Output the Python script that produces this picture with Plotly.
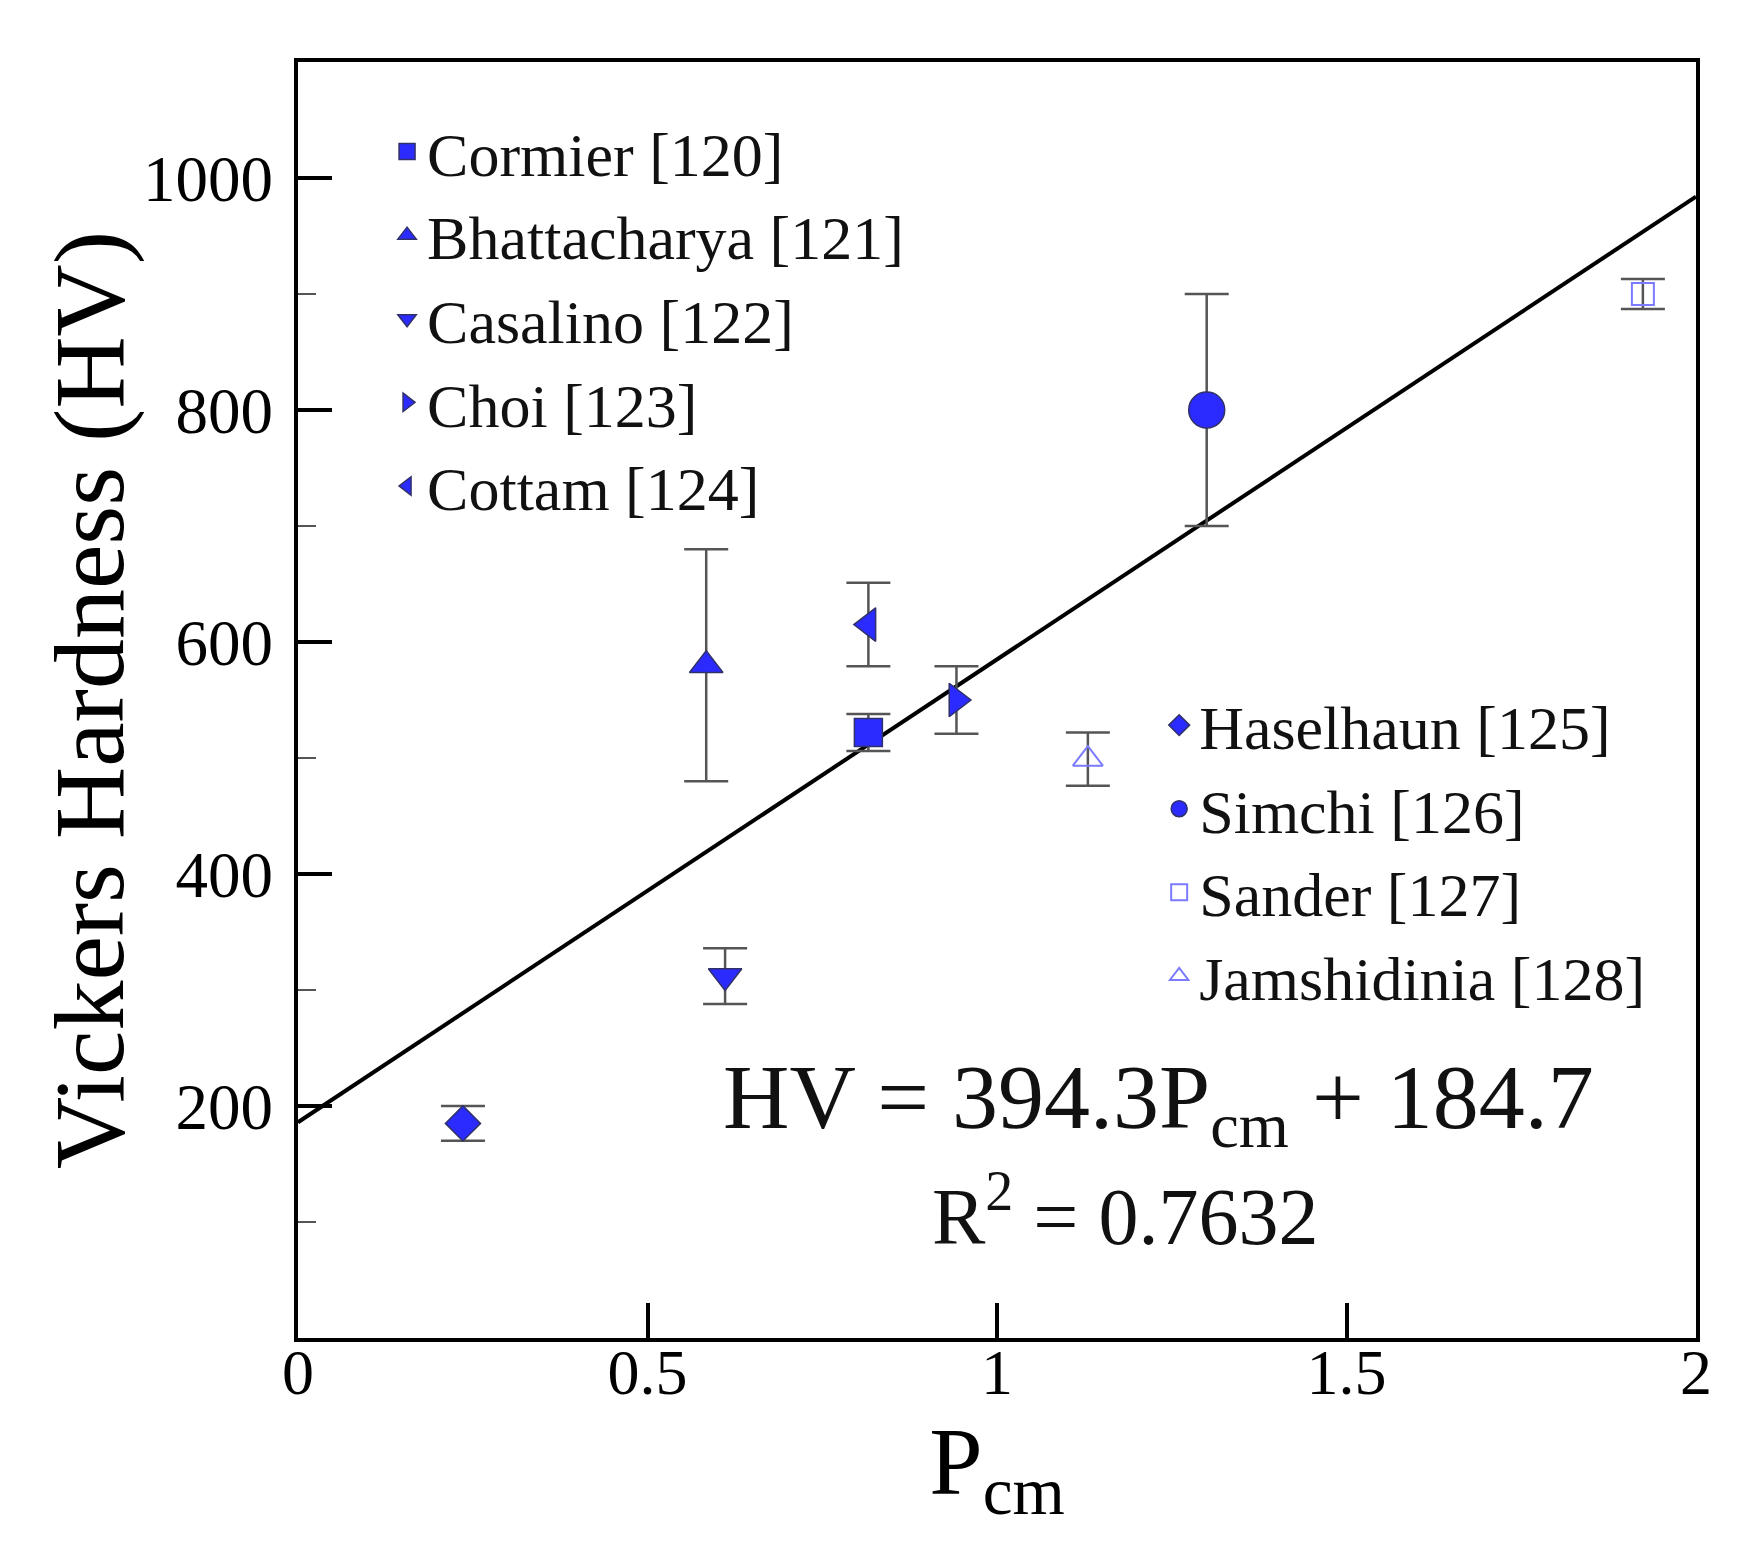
import plotly.graph_objects as go

# linear fit reported on the chart: HV = a * Pcm + b
fit_a = 394.3
fit_b = 184.7
fit_r2 = 0.7632
# fitted line as drawn (ends read at Pcm = 0 and 2)
fit_pcm = [0, 2]
fit_hv = [186, 984]

# one point per study: Pcm, Vickers hardness and its error
names = ["Cormier [120]", "Bhattacharya [121]", "Casalino [122]", "Choi [123]",
         "Cottam [124]", "Haselhaun [125]", "Simchi [126]", "Sander [127]",
         "Jamshidinia [128]"]
pcm = [0.816, 0.584, 0.611, 0.942, 0.816, 0.236, 1.300, 1.924, 1.130]
hv = [522, 580, 312, 550, 615, 185, 800, 900, 499]
hv_err = [16, 100, 24, 29, 36, 15, 100, 13, 23]

x_ticks = [0, 0.5, 1, 1.5, 2]
x_ticktext = ["0", "0.5", "1", "1.5", "2"]
y_ticks = [200, 400, 600, 800, 1000]
y_minor = [100, 300, 500, 700, 900]

symbols = ["square", "triangle-up", "triangle-down", "triangle-right", "triangle-left",
           "diamond", "circle", "square-open", "triangle-up-open"]
sizes = [28, 29, 29, 29, 29, 27, 36, 22, 26]
legends = ["legend"] * 5 + ["legend2"] * 4

FONT = "Liberation Serif"
BLUE = "#2b2bff"
LIGHT = "#7b7bff"

fig = go.Figure()

fig.add_trace(go.Scatter(x=fit_pcm, y=fit_hv, mode="lines", showlegend=False,
                         line=dict(color="black", width=4), hoverinfo="skip"))

for i, name in enumerate(names):
    if symbols[i].endswith("open"):
        marker = dict(symbol=symbols[i], size=sizes[i], color=LIGHT,
                      line=dict(color=LIGHT, width=2))
    else:
        marker = dict(symbol=symbols[i], size=sizes[i], color=BLUE,
                      line=dict(color="#30306a", width=1.5))
    fig.add_trace(go.Scatter(
        x=[pcm[i]], y=[hv[i]], mode="markers", name=name, legend=legends[i],
        marker=marker,
        error_y=dict(type="data", array=[hv_err[i]], visible=True,
                     color="#555555", thickness=2.5, width=22),
    ))

fig.add_annotation(
    text=f"HV = {fit_a}P<sub>cm</sub> + {fit_b}", xref="paper", yref="paper",
    x=0.6157, y=0.184, xanchor="center", yanchor="middle", showarrow=False,
    font=dict(family=FONT, size=92, color="#111111"))
fig.add_annotation(
    text=f"R<sup>2</sup> = {fit_r2}", xref="paper", yref="paper",
    x=0.5914, y=0.1003, xanchor="center", yanchor="middle", showarrow=False,
    font=dict(family=FONT, size=80, color="#111111"))
# y axis title
fig.add_annotation(
    text="Vickers Hardness (HV)", xref="paper", yref="paper",
    x=-0.1495, y=0.5, xanchor="center", yanchor="middle", textangle=-90,
    showarrow=False, font=dict(family=FONT, size=100, color="black"))

fig.update_xaxes(
    range=[0, 2], tickvals=x_ticks, ticktext=x_ticktext,
    ticks="inside", ticklen=35, tickwidth=4, tickcolor="black",
    showline=True, linewidth=4, linecolor="black", mirror=True,
    showgrid=False, zeroline=False, ticklabelstandoff=-25,
    tickfont=dict(family=FONT, size=64, color="black"),
    title=dict(text="P<sub>cm</sub>", font=dict(family=FONT, size=96, color="black"),
               standoff=12),
)
fig.update_yaxes(
    range=[0, 1100], tickvals=y_ticks,
    ticks="inside", ticklen=34, tickwidth=4, tickcolor="black",
    minor=dict(tickvals=y_minor, ticks="inside", ticklen=18, tickwidth=2,
               tickcolor="#555555", showgrid=False),
    showline=True, linewidth=4, linecolor="black", mirror=True,
    showgrid=False, zeroline=False, ticklabelstandoff=8,
    tickfont=dict(family=FONT, size=65, color="black"),
)

legend_style = dict(xanchor="left", yanchor="top", bgcolor="rgba(0,0,0,0)",
                    borderwidth=0, tracegroupgap=0,
                    font=dict(family=FONT, size=62, color="#111111"))
fig.update_layout(
    width=1752, height=1560,
    margin=dict(l=290, r=64, t=54, b=230),
    plot_bgcolor="white", paper_bgcolor="white",
    font=dict(family=FONT, color="black"),
    legend=dict(x=0.0637, y=0.9665, **legend_style),
    legend2=dict(x=0.616, y=0.517, **legend_style),
)

fig.write_html("out.html")
